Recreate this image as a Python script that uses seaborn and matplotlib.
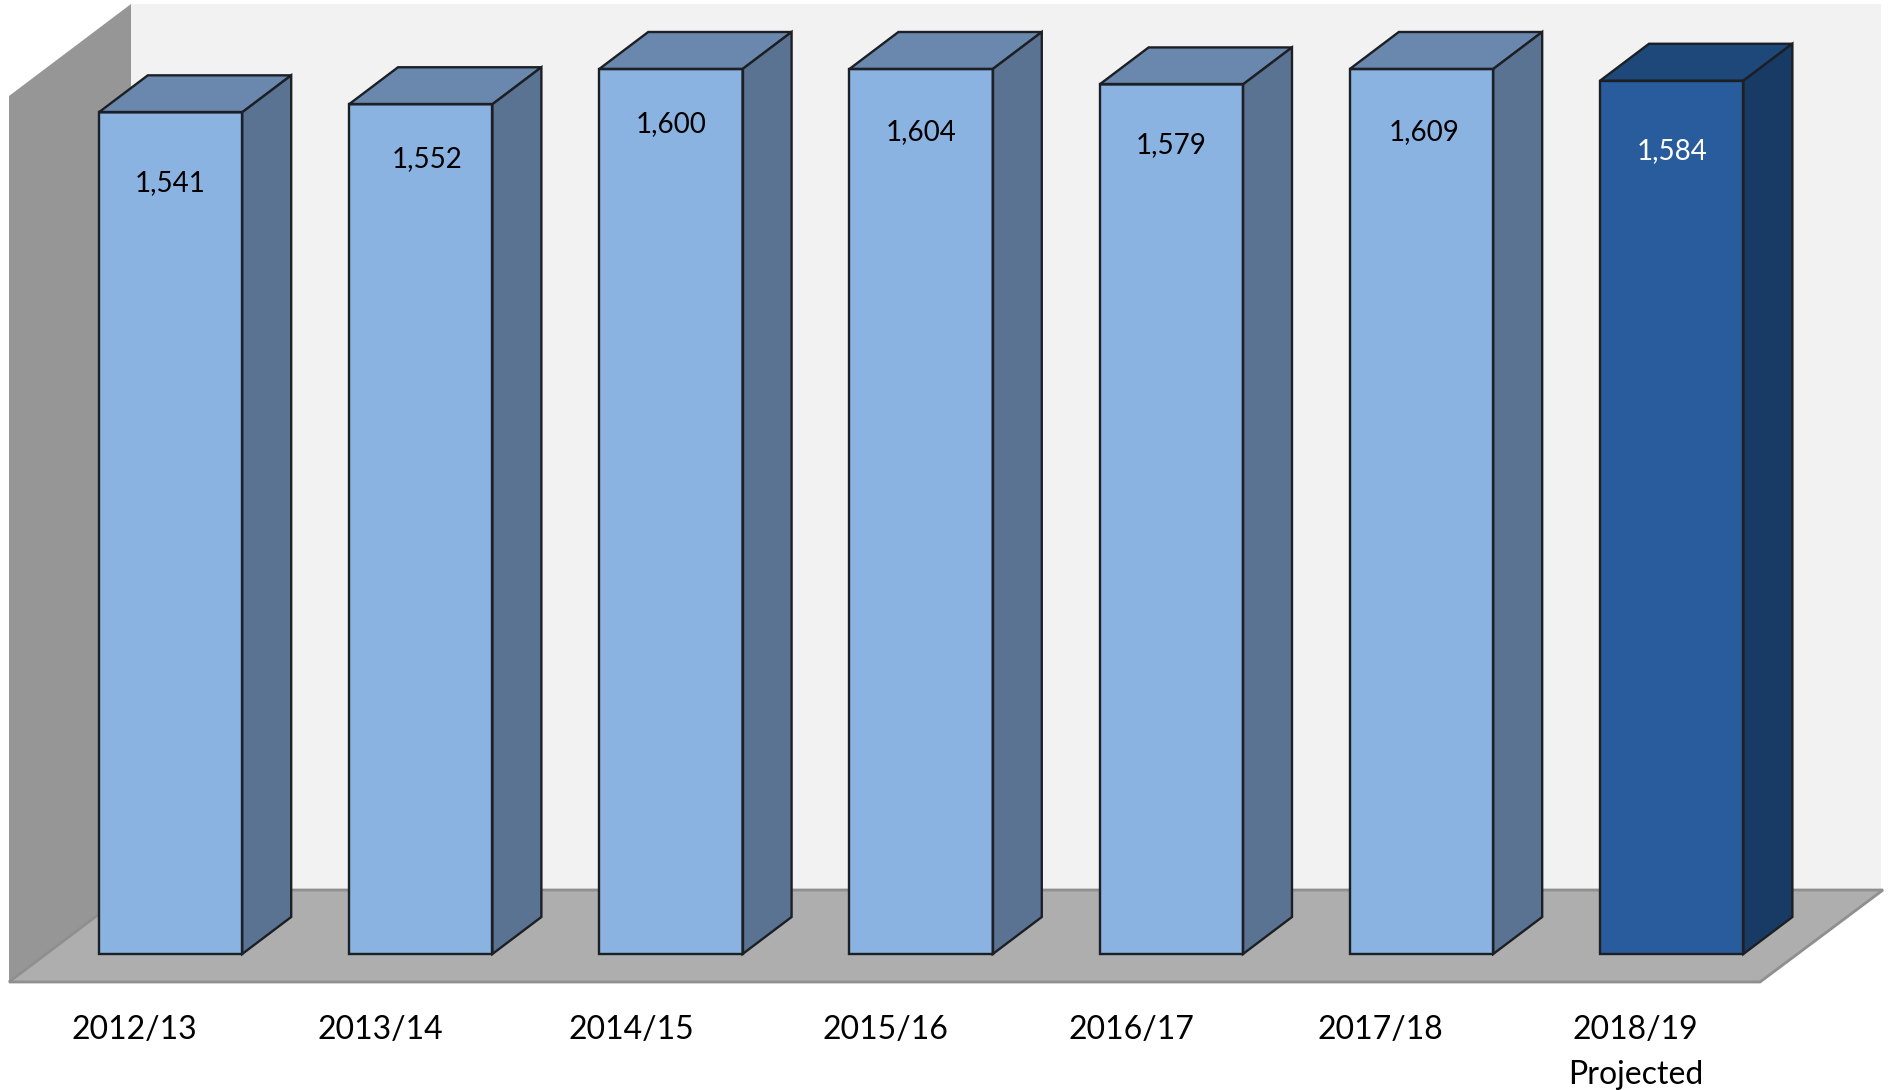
import matplotlib
matplotlib.use('Agg')
import matplotlib.pyplot as plt
from matplotlib.patches import Polygon
import seaborn as sns

# data
years = ['2012/13', '2013/14', '2014/15', '2015/16', '2016/17', '2017/18', '2018/19\nProjected']
students = [1541, 1552, 1600, 1604, 1579, 1609, 1584]
labels = ['1,541', '1,552', '1,600', '1,604', '1,579', '1,609', '1,584']

front_colors = ['#8bb3e2'] * 6 + ['#295c9c']
top_colors = ['#6a88ae'] * 6 + ['#1e4879']
side_colors = ['#5a7392'] * 6 + ['#183b66']
label_colors = ['black'] * 6 + ['white']

# hand placed text, offset from bar centre / from image top (in image px)
label_dx = [0, 6, 0, 0, 0, 3, 0]
label_y = [183, 159, 124, 132, 145, 132, 151]
tick_dx = [-36, -40, -40, -36, -40, -41, -36]

W, H = 1889, 1090
edge = '#1c1f24'

sns.set_style('white')
plt.rcParams['font.family'] = ['Lato', 'DejaVu Sans']

fig = plt.figure(figsize=(W / 100, H / 100), dpi=100, facecolor='white')

# background axes in image pixels: walls and floor
bg = fig.add_axes([0, 0, 1, 1])
bg.set_xlim(0, W)
bg.set_ylim(H, 0)
bg.axis('off')
bg.add_patch(Polygon([(131, 4), (1881, 4), (1881, 890), (131, 890)], fc='#f2f2f2', ec='none'))
bg.add_patch(Polygon([(9, 96), (131, 4), (131, 890), (9, 982)], fc='#969696', ec='none'))
bg.add_patch(Polygon([(9, 982), (131, 890), (1883, 890), (1760, 982)], fc='#aeaeae', ec='#8f8f8f', lw=2))

# bars, axes top is the value axis maximum so taller bars get cut off
ymin, ymax = 395, 1600
x_left, x_right = 170.5 - 250.2 / 2, 170.5 + 250.2 * 6.5
ax_top, ax_bottom = 69, 954
ax = fig.add_axes([x_left / W, 1 - ax_bottom / H, (x_right - x_left) / W, (ax_bottom - ax_top) / H])
ax.patch.set_alpha(0)

sns.barplot(x=years, y=students, hue=years, palette=front_colors, legend=False,
            width=0.573, linewidth=0, saturation=1, ax=ax)
ax.set_xlim(-0.5, 6.5)
ax.set_ylim(ymin, ymax)
ax.axis('off')

# depth of the fake 3d, in data units
dx = 49 / 250.2
dy = 37 * (ymax - ymin) / (ax_bottom - ax_top)

for i, bar in enumerate(ax.patches):
    x0 = bar.get_x()
    x1 = x0 + bar.get_width()
    top = min(bar.get_height(), ymax)
    ax.add_patch(Polygon([(x0, top), (x0 + dx, top + dy), (x1 + dx, top + dy), (x1, top)],
                         fc=top_colors[i], ec=edge, lw=1.7, clip_on=False))
    ax.add_patch(Polygon([(x1, top), (x1 + dx, top + dy), (x1 + dx, ymin + dy), (x1, ymin)],
                         fc=side_colors[i], ec=edge, lw=1.7, clip_on=False))
    ax.add_patch(Polygon([(x0, ymin), (x0, top), (x1, top), (x1, ymin)],
                         fill=False, ec=edge, lw=1.7, clip_on=False))
    px = 170.5 + 250.2 * i
    fig.text((px + label_dx[i]) / W, 1 - label_y[i] / H, labels[i], color=label_colors[i],
             fontsize=20, ha='center', va='center', zorder=10)
    fig.text((px + tick_dx[i]) / W, 1 - 1015 / H, years[i], color='black', fontsize=23,
             ha='center', va='top', zorder=10, linespacing=1.62)

fig.savefig('out.png', dpi=100)
